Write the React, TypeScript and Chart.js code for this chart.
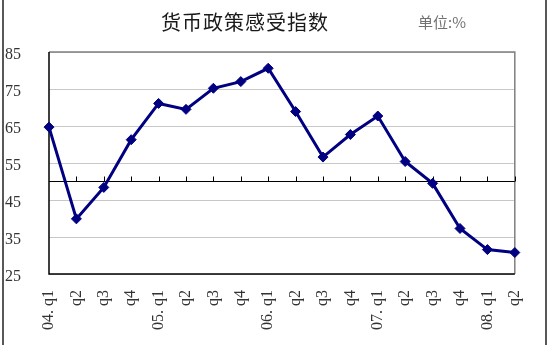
import React, { useEffect, useRef } from "react";
import { Chart, registerables } from "chart.js";

Chart.register(...registerables);

const TITLE = "货币政策感受指数";
const UNIT = "单位:%";
const categories = [
  "04. q1", "q2", "q3", "q4",
  "05. q1", "q2", "q3", "q4",
  "06. q1", "q2", "q3", "q4",
  "07. q1", "q2", "q3", "q4",
  "08. q1", "q2",
];
const values = [
  64.7, 39.9, 48.4, 61.3,
  71.1, 69.5, 75.2, 77.0,
  80.6, 68.9, 56.6, 62.7,
  67.7, 55.4, 49.5, 37.3,
  31.6, 30.8,
];
const yMin = 25;
const yMax = 85;
const yStep = 10;
const baseline = 50;

const decorPlugin = {
  id: "decor",
  beforeDatasetsDraw(chart: any) {
    const { ctx, chartArea, scales } = chart;
    const { left, right, top, bottom } = chartArea;
    ctx.save();
    ctx.strokeStyle = "#808080";
    ctx.lineWidth = 1.5;
    ctx.beginPath();
    ctx.moveTo(left, top);
    ctx.lineTo(right, top);
    ctx.lineTo(right, bottom);
    ctx.stroke();
    ctx.strokeStyle = "#000000";
    ctx.lineWidth = 1.5;
    ctx.beginPath();
    ctx.moveTo(left, top);
    ctx.lineTo(left, bottom);
    ctx.lineTo(right, bottom);
    ctx.stroke();
    const y = Math.round(scales.y.getPixelForValue(baseline)) + 0.5;
    ctx.strokeStyle = "#000000";
    ctx.lineWidth = 1;
    ctx.beginPath();
    ctx.moveTo(left, y);
    ctx.lineTo(right, y);
    for (let i = 1; i < categories.length; i++) {
      const x = Math.round(scales.x.getPixelForValue(i)) + 0.5;
      ctx.moveTo(x, y);
      ctx.lineTo(x, y - 5);
    }
    ctx.stroke();
    ctx.restore();
  },
  afterDraw(chart: any) {
    const { ctx, height, scales } = chart;
    ctx.save();
    // y tick labels (from the library's scale), slightly below gridlines as in the reference
    ctx.fillStyle = "#333333";
    ctx.font = '16px "Liberation Serif"';
    ctx.textAlign = "left";
    ctx.textBaseline = "middle";
    for (const t of scales.y.ticks) {
      ctx.fillText(String(t.value), 5, scales.y.getPixelForValue(t.value) + 3);
    }
    ctx.fillStyle = "#1a1a1a";
    ctx.font = '20px "Noto Sans CJK SC"';
    ctx.textAlign = "center";
    (ctx as any).letterSpacing = "1px";
    ctx.fillText(TITLE, 245, 22);
    (ctx as any).letterSpacing = "0px";
    ctx.fillStyle = "#707070";
    ctx.font = '15px "Noto Sans CJK SC"';
    ctx.textAlign = "left";
    ctx.fillText(UNIT, 418, 22);
    ctx.strokeStyle = "#222222";
    ctx.lineWidth = 1.5;
    ctx.beginPath();
    ctx.moveTo(3, 0);
    ctx.lineTo(3, height);
    ctx.moveTo(546, 0);
    ctx.lineTo(546, height);
    ctx.stroke();
    ctx.restore();
  },
};

export default function App() {
  const ref = useRef<HTMLCanvasElement | null>(null);
  useEffect(() => {
    document.body.style.margin = "0";
    document.body.style.overflow = "hidden";
    const canvas = ref.current;
    if (!canvas) return;
    const chart = new Chart(canvas, {
      type: "line",
      data: {
        labels: categories,
        datasets: [
          {
            data: values,
            borderColor: "#000080",
            backgroundColor: "#000080",
            borderWidth: 3,
            pointStyle: "rectRot",
            pointRadius: 5,
            pointBorderWidth: 1,
            tension: 0,
          },
        ],
      },
      options: {
        animation: false,
        responsive: false,
        maintainAspectRatio: false,
        layout: { padding: { left: 5, top: 52, right: 27, bottom: 0 } },
        plugins: {
          legend: { display: false },
          tooltip: { enabled: false },
          title: { display: false },
        },
        scales: {
          x: {
            type: "category",
            offset: false,
            grid: { display: false, drawTicks: false },
            border: { display: false },
            ticks: {
              autoSkip: false,
              minRotation: 90,
              maxRotation: 90,
              padding: 16,
              color: "#333333",
              font: { family: "Liberation Serif", size: 16 },
            },
            afterFit(scale: any) {
              scale.height = 71;
            },
          },
          y: {
            min: yMin,
            max: yMax,
            grid: {
              color: "#c8c8c8",
              lineWidth: 1,
              drawTicks: false,
            },
            border: { display: false },
            ticks: {
              stepSize: yStep,
              display: false,
            },
            afterFit(scale: any) {
              scale.width = 44;
            },
          },
        },
      },
      plugins: [decorPlugin],
    });
    return () => chart.destroy();
  }, []);
  return (
    <div style={{ width: 550, height: 345, background: "#ffffff" }}>
      <canvas ref={ref} width={550} height={345} style={{ display: "block" }} />
    </div>
  );
}
